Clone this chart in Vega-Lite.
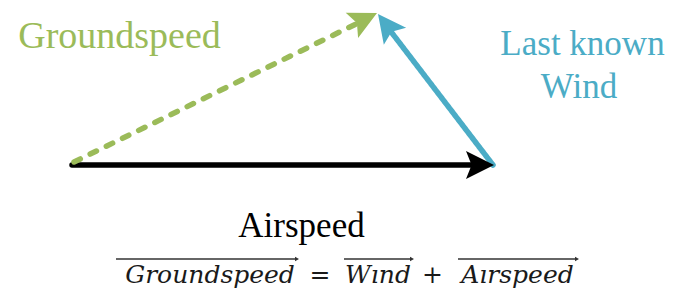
{
  "$schema": "https://vega.github.io/schema/vega-lite/v6.json",
  "width": 673,
  "height": 291,
  "autosize": {"type": "fit", "contains": "padding"},
  "padding": 0,
  "background": "white",
  "config": {"view": {"stroke": null}},
  "encoding": {
    "x": {"type": "quantitative", "scale": {"domain": [0, 673], "zero": false, "nice": false}, "axis": null},
    "y": {"type": "quantitative", "scale": {"domain": [0, 291], "zero": false, "nice": false, "reverse": true}, "axis": null}
  },
  "layer": [
    {
      "data": {"values": [
        {"vector": "Airspeed", "x": 72, "y": 165, "x2": 471, "y2": 165},
        {"vector": "Wind", "x": 493, "y": 165, "x2": 392, "y2": 33},
        {"vector": "Groundspeed", "x": 74, "y": 162, "x2": 356, "y2": 24}
      ]},
      "mark": {"type": "rule", "strokeWidth": 5.5, "strokeCap": "round"},
      "encoding": {
        "x": {"field": "x", "type": "quantitative"},
        "y": {"field": "y", "type": "quantitative"},
        "x2": {"field": "x2"},
        "y2": {"field": "y2"},
        "color": {"field": "vector", "type": "nominal", "scale": {"domain": ["Airspeed", "Wind", "Groundspeed"], "range": ["#000000", "#4BACC6", "#9BBB59"]}, "legend": null},
        "strokeDash": {"field": "vector", "type": "nominal", "scale": {"domain": ["Airspeed", "Wind", "Groundspeed"], "range": [[1, 0], [1, 0], [7, 11]]}, "legend": null}
      }
    },
    {
      "data": {"values": [
        {"vector": "Airspeed", "x": 494, "y": 165, "heading": 90},
        {"vector": "Wind", "x": 378, "y": 14, "heading": 322.7},
        {"vector": "Groundspeed", "x": 377, "y": 13, "heading": 63.7}
      ]},
      "mark": {"type": "point", "shape": "M0,0 L1,2 L0,1.6 L-1,2 Z", "filled": true, "opacity": 1, "size": 784, "strokeWidth": 0},
      "encoding": {
        "x": {"field": "x", "type": "quantitative"},
        "y": {"field": "y", "type": "quantitative"},
        "angle": {"field": "heading", "type": "quantitative", "scale": null},
        "color": {"field": "vector", "type": "nominal", "legend": null}
      }
    },
    {
      "data": {"values": [
        {"vector": "Groundspeed", "label": "Groundspeed", "x": 119.5, "y": 48}
      ]},
      "mark": {"type": "text", "font": "'Liberation Serif', 'DejaVu Serif', serif", "fontSize": 38, "align": "center", "baseline": "alphabetic"},
      "encoding": {
        "x": {"field": "x", "type": "quantitative"},
        "y": {"field": "y", "type": "quantitative"},
        "text": {"field": "label"},
        "color": {"field": "vector", "type": "nominal", "legend": null}
      }
    },
    {
      "data": {"values": [
        {"vector": "Wind", "label": "Last known", "x": 582.5, "y": 55},
        {"vector": "Wind", "label": "Wind", "x": 579, "y": 98},
        {"vector": "Airspeed", "label": "Airspeed", "x": 301.5, "y": 237}
      ]},
      "mark": {"type": "text", "font": "'Liberation Serif', 'DejaVu Serif', serif", "fontSize": 35, "align": "center", "baseline": "alphabetic"},
      "encoding": {
        "x": {"field": "x", "type": "quantitative"},
        "y": {"field": "y", "type": "quantitative"},
        "text": {"field": "label"},
        "color": {"field": "vector", "type": "nominal", "legend": null}
      }
    },
    {
      "data": {"values": [
        {"label": "Groundspeed", "x": 210, "y": 283},
        {"label": "Wınd", "x": 378, "y": 283},
        {"label": "Aırspeed", "x": 517.5, "y": 283}
      ]},
      "mark": {"type": "text", "font": "'DejaVu Serif', 'Liberation Serif', serif", "fontStyle": "italic", "fontSize": 25, "align": "center", "baseline": "alphabetic", "color": "#1a1a1a"},
      "encoding": {
        "x": {"field": "x", "type": "quantitative"},
        "y": {"field": "y", "type": "quantitative"},
        "text": {"field": "label"}
      }
    },
    {
      "data": {"values": [
        {"label": "=", "x": 320, "y": 283},
        {"label": "+", "x": 432.5, "y": 283}
      ]},
      "mark": {"type": "text", "font": "'DejaVu Serif', 'Liberation Serif', serif", "fontSize": 25, "align": "center", "baseline": "alphabetic", "color": "#1a1a1a"},
      "encoding": {
        "x": {"field": "x", "type": "quantitative"},
        "y": {"field": "y", "type": "quantitative"},
        "text": {"field": "label"}
      }
    },
    {
      "data": {"values": [
        {"x": 116, "x2": 296, "y": 259},
        {"x": 344, "x2": 411, "y": 259},
        {"x": 458, "x2": 576, "y": 259}
      ]},
      "mark": {"type": "rule", "strokeWidth": 1.5, "color": "#333333"},
      "encoding": {
        "x": {"field": "x", "type": "quantitative"},
        "x2": {"field": "x2"},
        "y": {"field": "y", "type": "quantitative"}
      }
    },
    {
      "data": {"values": [
        {"x": 297, "y": 259},
        {"x": 412, "y": 259},
        {"x": 577, "y": 259}
      ]},
      "mark": {"type": "point", "shape": "triangle-right", "filled": true, "opacity": 1, "size": 22, "color": "#333333"},
      "encoding": {
        "x": {"field": "x", "type": "quantitative"},
        "y": {"field": "y", "type": "quantitative"}
      }
    }
  ]
}
